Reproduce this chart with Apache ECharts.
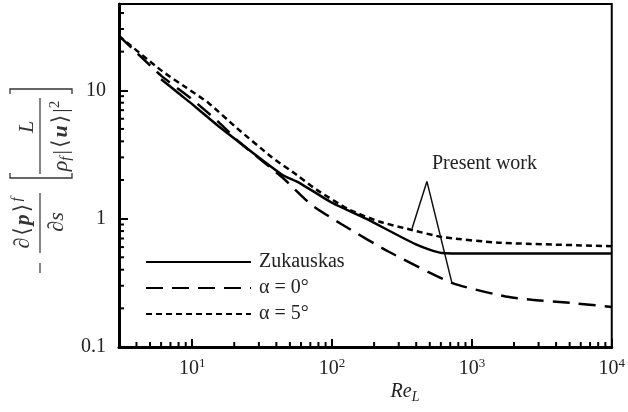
<!DOCTYPE html>
<html><head><meta charset="utf-8">
<script src="https://cdn.jsdelivr.net/npm/echarts@6/dist/echarts.min.js"></script>
<style>html,body{margin:0;padding:0;background:#fff}#c{width:628px;height:412px}</style>
</head><body><div id="c"></div>
<script>
// ---- data ----
const zukauskasRe = [6.0, 8, 10, 13.2, 15.6, 21.7, 44, 58, 100, 175, 398, 610, 1000, 10000];
const zukauskasP  = [12.2, 9.47, 7.8, 6.05, 5.2, 3.93, 2.2, 1.91, 1.33, 1.0, 0.63, 0.54, 0.535, 0.535];

const alpha0Re = [3, 4, 6, 10, 15.6, 22, 44, 70.8, 118, 255, 720, 1750, 2680, 5000, 10000];
const alpha0P  = [26.5, 19.7, 13, 8.5, 5.6, 3.9, 2.1, 1.29, 0.90, 0.552, 0.316, 0.247, 0.233, 0.221, 0.205];

const alpha5Re = [3, 6.1, 9.06, 13.2, 20.6, 37.3, 58, 76.9, 132, 217, 366, 610, 1550, 10000];
const alpha5P  = [26.5, 14.1, 10.5, 7.9, 5.14, 3.0, 2.13, 1.69, 1.18, 0.95, 0.82, 0.72, 0.65, 0.61];

// "Present work" pointer (two arms from the label to the two present-work curves)
const pointerRe = [373, 477, 720];
const pointerP  = [0.835, 1.95, 0.316];

const seriesNames = ['Zukauskas', 'α = 0°', 'α = 5°'];
const xMajorLabels = {10: '1', 100: '2', 1000: '3', 10000: '4'};
const yMajorLabels = {0.1: '0.1', 1: '1', 10: '10'};
const xMinorTicks = [4,5,6,7,8,9,20,30,40,50,60,70,80,90,200,300,400,500,600,700,800,900,2000,3000,4000,5000,6000,7000,8000,9000];
const yMinorTicks = [0.2,0.3,0.4,0.5,0.6,0.7,0.8,0.9,2,3,4,5,6,7,8,9,20,30,40];

// ---- chart ----
const FONT = '"Liberation Serif", "DejaVu Serif", serif';
const TXT = '#222';
const TTL = '#333';
const zip = (a, b) => a.map((v, i) => [v, b[i]]);
const X_MIN = 3, X_MAX = 10000, Y_MIN = 0.1, Y_MAX = 47;

const chart = echarts.init(document.getElementById('c'), null, {renderer: 'canvas'});

function tickSeries(data, horizontal) {
  return {
    type: 'custom', silent: true, z: 5, clip: false,
    data: data,
    renderItem: function (params, api) {
      const p = api.coord([api.value(0), api.value(1)]);
      return {
        type: 'line',
        shape: horizontal ? {x1: p[0], y1: p[1], x2: p[0] + 5, y2: p[1]}
                          : {x1: p[0], y1: p[1], x2: p[0], y2: p[1] - 5},
        style: {stroke: '#000', lineWidth: 2}
      };
    }
  };
}

const lineBase = {type: 'line', symbol: 'none', smooth: 0.2, z: 3};

const option = {
  animation: false,
  backgroundColor: '#fff',
  grid: {left: 119, right: 15, top: 4, bottom: 65, show: true, borderColor: '#000', borderWidth: 2, backgroundColor: 'transparent'},
  legend: {
    data: seriesNames,
    orient: 'vertical', left: 140, top: 247,
    itemWidth: 105, itemHeight: 14, itemGap: 6,
    itemStyle: {opacity: 0},
    textStyle: {fontFamily: FONT, fontSize: 20, color: TXT, padding: [0, 0, 0, 3]},
    inactiveColor: '#000'
  },
  xAxis: {
    type: 'log', logBase: 10, min: X_MIN, max: X_MAX,
    axisLine: {lineStyle: {color: '#000', width: 3}},
    axisTick: {inside: true, length: 8, lineStyle: {color: '#000', width: 2}},
    splitLine: {show: false},
    axisLabel: {
      margin: 10, showMinLabel: false, color: TXT,
      formatter: function (v) {
        const k = Math.round(v);
        return xMajorLabels[k] ? '{b|10}{s|' + xMajorLabels[k] + '}' : '';
      },
      rich: {
        b: {fontFamily: FONT, fontSize: 20, color: TXT, lineHeight: 24},
        s: {fontFamily: FONT, fontSize: 13, color: TXT, verticalAlign: 'top', lineHeight: 14}
      }
    }
  },
  yAxis: {
    type: 'log', logBase: 10, min: Y_MIN, max: Y_MAX,
    axisLine: {lineStyle: {color: '#000', width: 3}},
    axisTick: {inside: true, length: 9, lineStyle: {color: '#000', width: 2}},
    splitLine: {show: false},
    axisLabel: {
      margin: 13, showMaxLabel: false, fontFamily: FONT, fontSize: 20, color: TXT,
      formatter: function (v) {
        for (const k in yMajorLabels) { if (Math.abs(v - Number(k)) < 1e-6 * Number(k)) return yMajorLabels[k]; }
        return '';
      }
    }
  },
  series: [
    Object.assign({}, lineBase, {name: seriesNames[0], data: zip(zukauskasRe, zukauskasP),
      lineStyle: {color: '#000', width: 2.5, type: 'solid'}, itemStyle: {color: '#000'}}),
    Object.assign({}, lineBase, {name: seriesNames[1], data: zip(alpha0Re, alpha0P),
      lineStyle: {color: '#000', width: 2.5, type: [17, 9]}, itemStyle: {color: '#000'}}),
    Object.assign({}, lineBase, {name: seriesNames[2], data: zip(alpha5Re, alpha5P),
      lineStyle: {color: '#000', width: 2.5, type: [6, 4]}, itemStyle: {color: '#000'}}),
    {type: 'line', name: 'pointer', symbol: 'none', smooth: false, silent: true, z: 4,
      data: zip(pointerRe, pointerP), lineStyle: {color: '#111', width: 1.5}},
    tickSeries(xMinorTicks.map(v => [v, Y_MIN]), false),
    tickSeries(yMinorTicks.map(v => [X_MIN, v]), true)
  ],
  graphic: [
    {type: 'text', left: 432, top: 154, z: 10,
      style: {text: 'Present work', fontFamily: FONT, fontSize: 20, fill: TXT}},
    {type: 'text', x: 405, y: 392, z: 10,
      style: {text: '{r|Re}{l|L}', align: 'center', verticalAlign: 'middle',
        rich: {r: {fontFamily: FONT, fontStyle: 'italic', fontSize: 20, fill: TXT, lineHeight: 24},
               l: {fontFamily: FONT, fontStyle: 'italic', fontSize: 14, fill: TXT, verticalAlign: 'bottom', lineHeight: 14}}}},
    // square brackets of the y-axis title (horizontal strokes in screen space)
    {type: 'polyline', z: 10, shape: {points: [[10, 173], [10, 178], [72, 178], [72, 173]]}, style: {stroke: TTL, lineWidth: 1.3, fill: null}},
    {type: 'polyline', z: 10, shape: {points: [[10, 94], [10, 89], [72, 89], [72, 94]]}, style: {stroke: TTL, lineWidth: 1.3, fill: null}},
    {type: 'group', x: 40, y: 180, rotation: Math.PI / 2, z: 10, children: [
      {type: 'line', shape: {x1: -93, y1: 0, x2: -83, y2: 0}, style: {stroke: TTL, lineWidth: 1.2}},
      {type: 'line', shape: {x1: -73, y1: 0, x2: -13, y2: 0}, style: {stroke: TTL, lineWidth: 1.2}},
      {type: 'text', x: -43, y: -17, style: {text: '{a|∂}{k|⟨}{i|p}{k|⟩}{s|f}', align: 'center', verticalAlign: 'middle',
        rich: {a: {fontFamily: FONT, fontSize: 22, fill: TTL, lineHeight: 26},
               k: {fontFamily: FONT, fontSize: 22, fill: TTL, lineHeight: 26, padding: [0, 2, 0, 2]},
               i: {fontFamily: FONT, fontSize: 22, fontStyle: 'italic', fontWeight: 'bold', fill: TTL, lineHeight: 26},
               s: {fontFamily: FONT, fontSize: 15, fontStyle: 'italic', fill: TTL, verticalAlign: 'top', lineHeight: 14}}}},
      {type: 'text', x: -42, y: 17, style: {text: '{a|∂}{i|s}', align: 'center', verticalAlign: 'middle',
        rich: {a: {fontFamily: FONT, fontSize: 22, fill: TTL}, i: {fontFamily: FONT, fontSize: 22, fontStyle: 'italic', fill: TTL}}}},
      {type: 'line', shape: {x1: 6, y1: 0, x2: 82, y2: 0}, style: {stroke: TTL, lineWidth: 1.2}},
      {type: 'text', x: 53, y: -13, style: {text: 'L', align: 'center', verticalAlign: 'middle', fontFamily: FONT, fontSize: 22, fontStyle: 'italic', fill: TTL}},
      {type: 'text', x: 44, y: 21, style: {text: '{i|ρ}{b|f}{a||}{k|⟨}{u|u}{k|⟩}{a||}{s|2}', align: 'center', verticalAlign: 'middle',
        rich: {a: {fontFamily: FONT, fontSize: 22, fill: TTL, lineHeight: 26},
               k: {fontFamily: FONT, fontSize: 22, fill: TTL, lineHeight: 26, padding: [0, 2, 0, 2]},
               i: {fontFamily: FONT, fontSize: 22, fontStyle: 'italic', fill: TTL, lineHeight: 26},
               b: {fontFamily: FONT, fontSize: 15, fontStyle: 'italic', fill: TTL, verticalAlign: 'bottom', lineHeight: 14, padding: [0, 2, 0, 0]},
               u: {fontFamily: FONT, fontSize: 22, fontStyle: 'italic', fontWeight: 'bold', fill: TTL, lineHeight: 26},
               s: {fontFamily: FONT, fontSize: 15, fill: TTL, verticalAlign: 'top', lineHeight: 14}}}}
    ]}
  ]
};
chart.setOption(option);
</script>
</body></html>
